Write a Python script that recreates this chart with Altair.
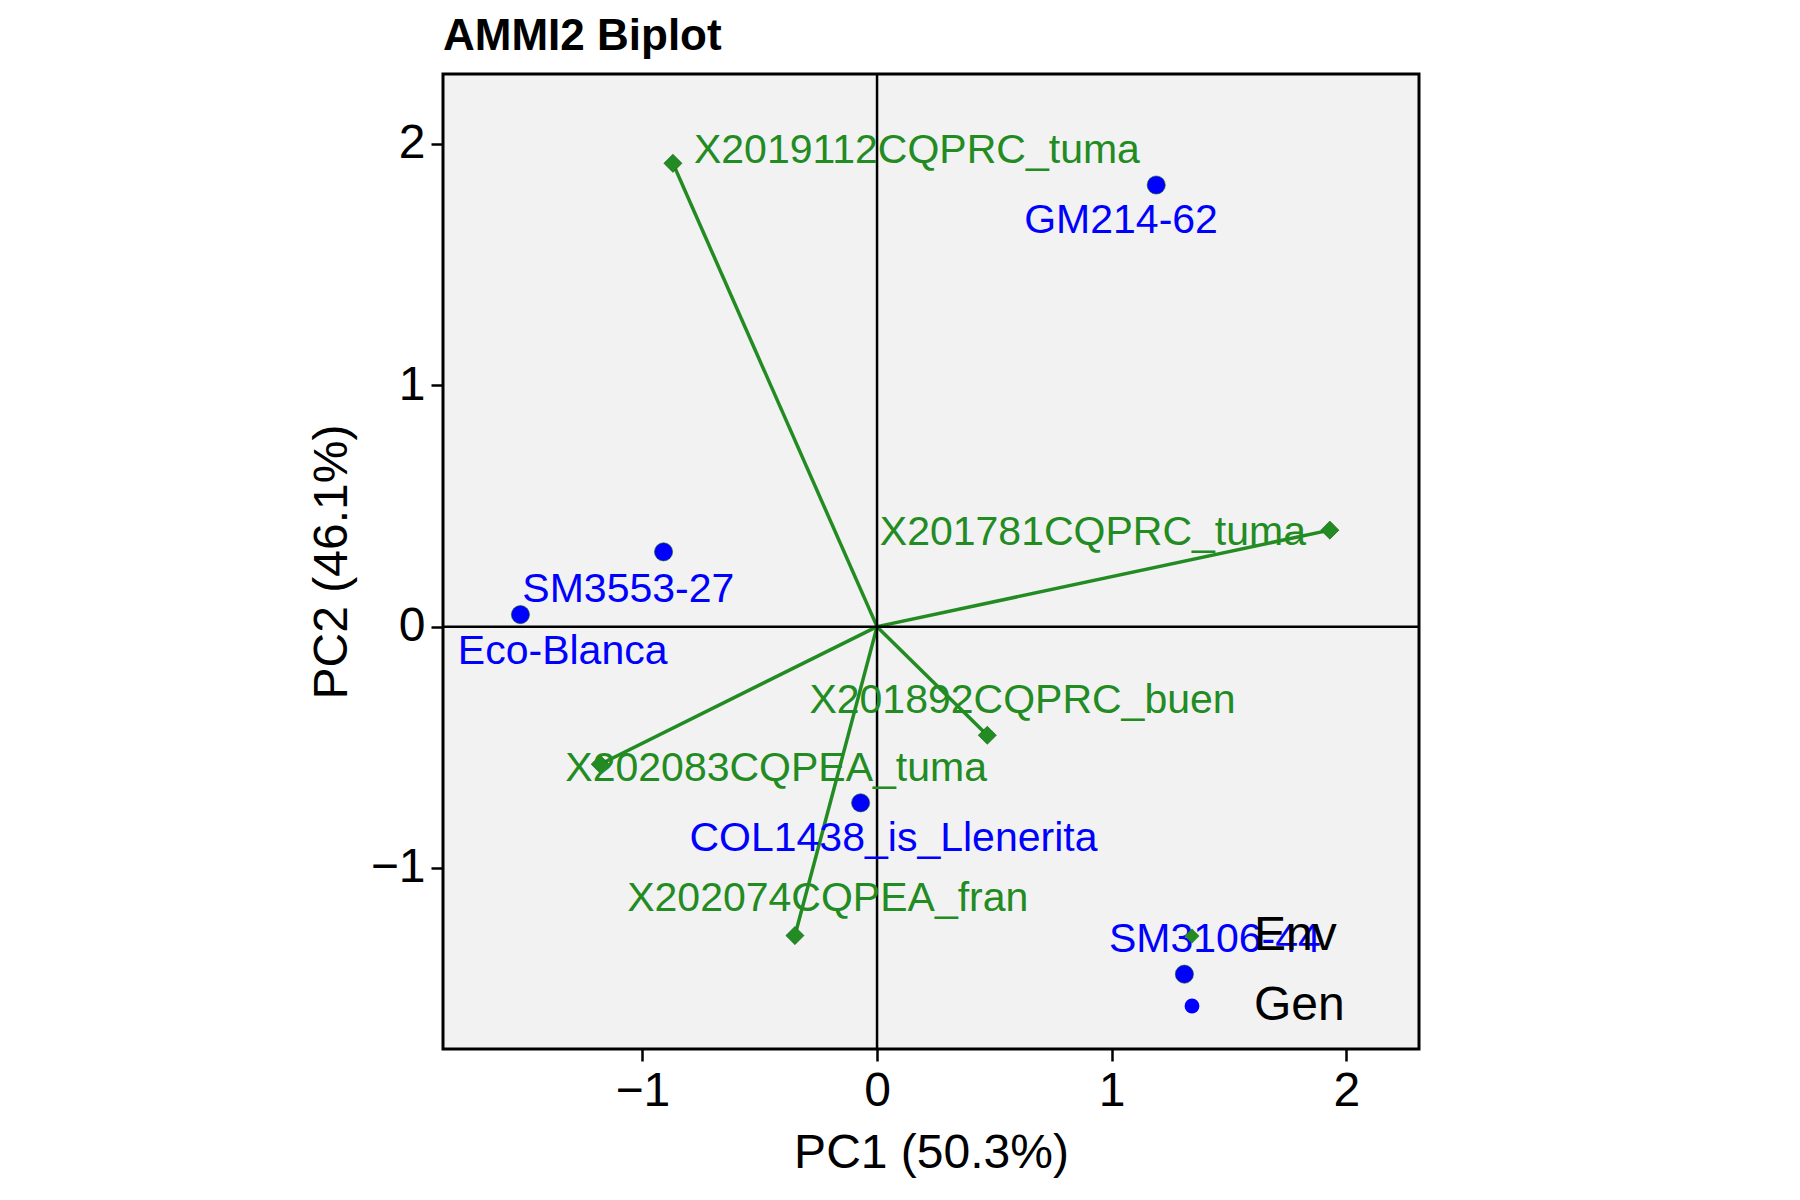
import altair as alt
import pandas as pd

# genotypes
gen_names = ['GM214-62', 'SM3553-27', 'Eco-Blanca', 'COL1438_is_Llenerita', 'SM3106-44']
gen_pc1 = [1.19, -0.91, -1.52, -0.07, 1.31]
gen_pc2 = [1.83, 0.31, 0.05, -0.73, -1.44]
gen_lab_x = [1.04, -1.06, -1.34, 0.07, 1.44]
gen_lab_y = [1.68, 0.15, -0.105, -0.88, -1.30]

# environments
env_names = ['X2019112CQPRC_tuma', 'X201781CQPRC_tuma', 'X201892CQPRC_buen',
             'X202083CQPEA_tuma', 'X202074CQPEA_fran']
env_pc1 = [-0.87, 1.93, 0.47, -1.18, -0.35]
env_pc2 = [1.92, 0.40, -0.45, -0.57, -1.28]
env_lab_x = [0.17, 0.92, 0.62, -0.43, -0.21]
env_lab_y = [1.97, 0.39, -0.31, -0.59, -1.13]

pts = pd.DataFrame({
    'name': gen_names + env_names,
    'PC1': gen_pc1 + env_pc1,
    'PC2': gen_pc2 + env_pc2,
    'lx': gen_lab_x + env_lab_x,
    'ly': gen_lab_y + env_lab_y,
    'type': ['Gen'] * len(gen_names) + ['Env'] * len(env_names),
})

xs = alt.Scale(domain=[-1.85, 2.31], nice=False, zero=False)
ys = alt.Scale(domain=[-1.75, 2.29], nice=False, zero=False)
col = alt.Scale(domain=['Env', 'Gen'], range=['#228B22', '#0000FF'])
shp = alt.Scale(domain=['Env', 'Gen'], range=['diamond', 'circle'])

base = alt.Chart(pts)

zero = pd.DataFrame({'v': [0]})
vline = alt.Chart(zero).mark_rule(color='black', strokeWidth=2.5).encode(x=alt.X('v:Q', scale=xs))
hline = alt.Chart(zero).mark_rule(color='black', strokeWidth=2.5).encode(y=alt.Y('v:Q', scale=ys))

vectors = base.transform_filter(alt.datum.type == 'Env').transform_calculate(z='0').mark_rule(
    color='#228B22', strokeWidth=3.5
).encode(
    x=alt.X('z:Q', scale=xs), y=alt.Y('z:Q', scale=ys),
    x2='PC1:Q', y2='PC2:Q'
)

points = base.mark_point(filled=True, opacity=1, stroke='#1a5e1a', strokeWidth=0.6).encode(
    x=alt.X('PC1:Q', scale=xs, title='PC1 (50.3%)',
            axis=alt.Axis(values=[-1, 0, 1, 2], format='d', grid=False)),
    y=alt.Y('PC2:Q', scale=ys, title='PC2 (46.1%)',
            axis=alt.Axis(values=[-1, 0, 1, 2], format='d', grid=False)),
    color=alt.Color('type:N', scale=col, title=None,
                    legend=alt.Legend(orient='none', legendX=725, legendY=838,
                                      labelFontSize=48, symbolSize=220, rowPadding=22,
                                      labelOffset=38, symbolStrokeWidth=0)),
    shape=alt.Shape('type:N', scale=shp, title=None),
    size=alt.value(330),
)

labels = base.mark_text(fontSize=41, font='Liberation Sans').encode(
    x=alt.X('lx:Q', scale=xs), y=alt.Y('ly:Q', scale=ys),
    text='name:N',
    color=alt.Color('type:N', scale=col, legend=None),
)

chart = (vectors + vline + hline + points + labels).properties(
    width=976, height=975,
    title=alt.TitleParams('AMMI2 Biplot', anchor='start', frame='group', fontSize=44,
                          font='Liberation Sans', fontWeight='bold', offset=14),
    padding={'left': 300, 'top': 6, 'right': 20, 'bottom': 10},
).configure_view(
    fill='#F2F2F2', stroke='black', strokeWidth=3
).configure_axis(
    labelFontSize=48, titleFontSize=48, labelFont='Liberation Sans', titleFont='Liberation Sans',
    labelColor='black', titleColor='black', tickSize=12, tickWidth=2.5, tickColor='black',
    domain=False, labelPadding=6, titlePadding=14, titleFontWeight='normal'
).configure_legend(
    labelFont='Liberation Sans', labelColor='black'
)

chart.save("out.html", embed_options={"renderer": "svg", "actions": False})
